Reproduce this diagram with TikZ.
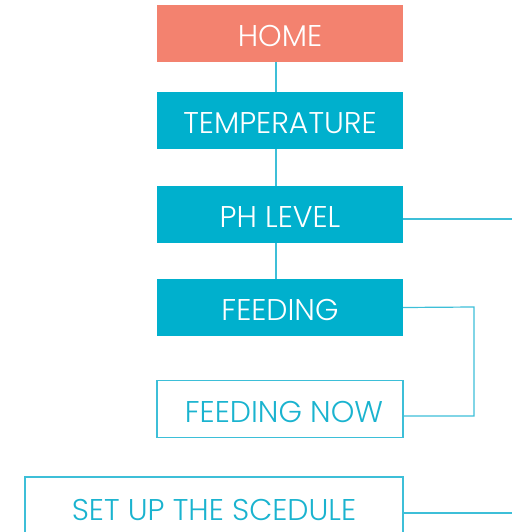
\documentclass[tikz,border=0pt]{standalone}
\usepackage{fontspec}
\setmainfont{Poppins Light}
\definecolor{salmon}{HTML}{F3826F}
\definecolor{teal}{HTML}{00B0CD}
\definecolor{wire}{HTML}{3DBFD8}
\definecolor{tealtext}{HTML}{1AB3CF}
\begin{document}
\begin{tikzpicture}[x=1pt,y=1pt,
  box/.style={minimum width=246pt,minimum height=57pt,inner sep=0pt,text height=26pt,text depth=0pt,font=\fontsize{30}{34}\selectfont},
  filled/.style={box,fill=teal,text=white},
  home/.style={box,fill=salmon,text=white},
  outl/.style={box,draw=wire,line width=1.3pt,text=tealtext},
  conn/.style={draw=wire,line width=1.2pt}]
\useasboundingbox (0,0) rectangle (512,-532);
\node[home] (home) at (280,-33.5) {HOME};
\node[filled] (temp) at (280,-120.5) {TEMPERATURE};
\node[filled] (ph) at (280,-214.5) {PH LEVEL};
\node[filled] (feed) at (280,-307.5) {FEEDING};
\node[outl] (now) at (280,-409) {\hspace*{8pt}FEEDING NOW};
\node[outl,minimum width=378pt,minimum height=61pt] (setup) at (214,-507.5) {SET UP THE SCEDULE};
\coordinate (phend) at (512,-219);
\coordinate (setend) at (512,-513);
\coordinate (turn) at (474,-307);
\draw[conn] ([xshift=-4pt]home.south) -- ([xshift=-4pt]temp.north);
\draw[conn] ([xshift=-4pt]temp.south) -- ([xshift=-4pt]ph.north);
\draw[conn] ([xshift=-4pt]ph.south) -- ([xshift=-4pt]feed.north);
\draw[conn] ([yshift=-4.5pt]ph.east) -- (phend);
\draw[conn] (feed.east) -- (turn) |- ([yshift=-7pt]now.east);
\draw[conn] ([yshift=-5.5pt]setup.east) -- (setend);
\end{tikzpicture}
\end{document}
